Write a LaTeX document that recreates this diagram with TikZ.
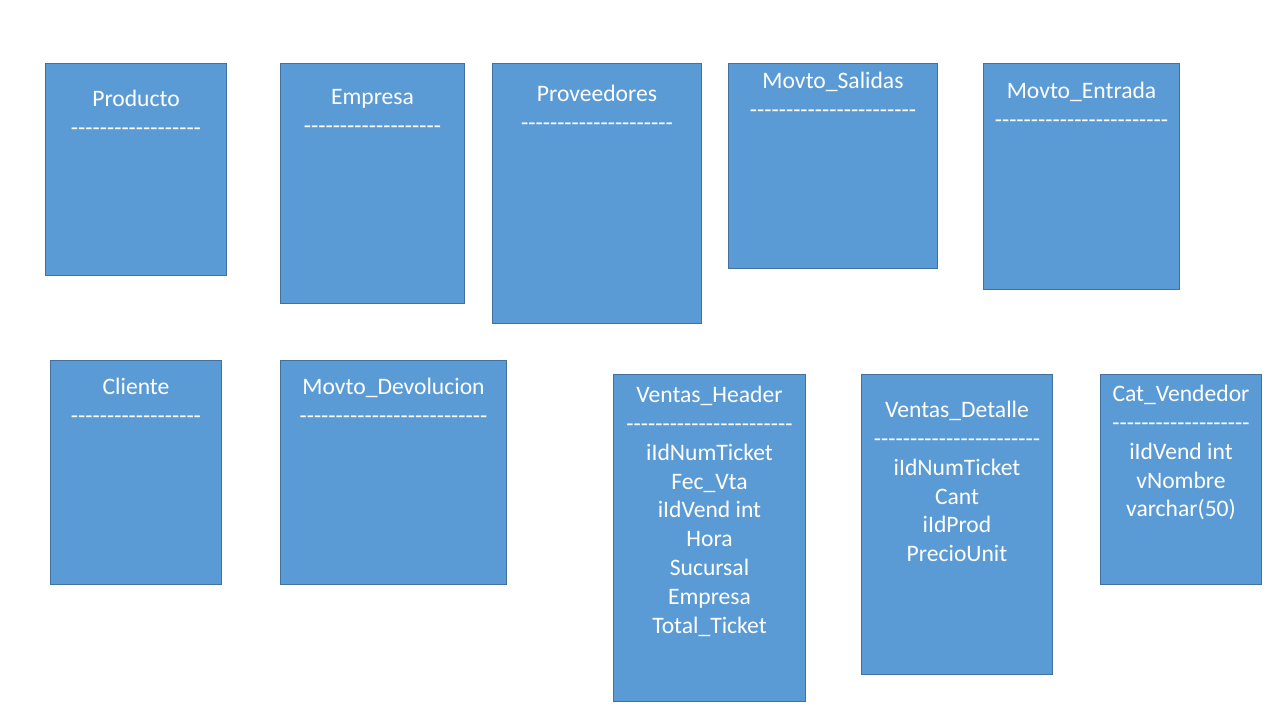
\documentclass[tikz,border=0pt]{standalone}
\usepackage{fontspec}
\setmainfont{Carlito}
\usetikzlibrary{positioning}
\definecolor{azul}{HTML}{5B9BD5}
\definecolor{borde}{HTML}{41719C}
\newcommand{\guiones}[1]{\foreach \g in {1,...,#1}{-}}

\begin{document}
\begin{tikzpicture}[
	x=0.75pt, y=-0.75pt,
	tabla/.style={
		draw=borde,
		fill=azul,
		line width=0.75pt,
		rectangle,
		anchor=north west,
		inner sep=0pt
	},
	campos/.style={
		text=white,
		align=center,
		inner sep=0pt,
		font=\fontsize{17.7pt}{21.6pt}\selectfont
	}
	]
	\useasboundingbox (0,0) rectangle (1280,720);
	\fill[white] (0,0) rectangle (1280,720);
	
	% fila de arriba
	\node[tabla, minimum width=135.75pt, minimum height=159pt] at (45,63) (prod) {};
	\node[campos, below=20.25pt of prod.north] (prodT) {Producto\\\guiones{18}};
	
	\node[tabla, minimum width=138pt, minimum height=180pt] at (280,63) (emp) {};
	\node[campos, below=19.5pt of emp.north] (empT) {Empresa\\\guiones{19}};
	
	\node[tabla, minimum width=156.75pt, minimum height=195pt] at (492,63) (prov) {};
	\node[campos, below=16.5pt of prov.north] (provT) {Proveedores\\\guiones{21}};
	
	\node[tabla, minimum width=156.75pt, minimum height=153.75pt] at (728,63) (sal) {};
	\node[campos, below=6.75pt of sal.north] (salT) {Movto\_Salidas\\\guiones{23}};
	
	\node[tabla, minimum width=147pt, minimum height=169.5pt] at (983,63) (ent) {};
	\node[campos, below=14.25pt of ent.north] (entT) {Movto\_Entrada\\\guiones{24}};
	
	% fila de abajo
	\node[tabla, minimum width=128.25pt, minimum height=168pt] at (50,360) (cli) {};
	\node[campos, below=13.5pt of cli.north] (cliT) {Cliente\\\guiones{18}};
	
	\node[tabla, minimum width=169.5pt, minimum height=168pt] at (280,360) (dev) {};
	\node[campos, below=13.5pt of dev.north] (devT) {Movto\_Devolucion\\\guiones{26}};
	
	\node[tabla, minimum width=144pt, minimum height=245.25pt] at (613,374) (vh) {};
	\node[campos, below=9pt of vh.north] (vhT) {Ventas\_Header\\\guiones{23}\\iIdNumTicket\\Fec\_Vta\\iIdVend int\\Hora\\Sucursal\\Empresa\\Total\_Ticket};
	
	\node[tabla, minimum width=143.25pt, minimum height=225pt] at (861,374) (vd) {};
	\node[campos, below=20.25pt of vd.north] (vdT) {Ventas\_Detalle\\\guiones{23}\\iIdNumTicket\\Cant\\iIdProd\\PrecioUnit};
	
	\node[tabla, minimum width=120.75pt, minimum height=157.5pt] at (1100,374) (cv) {};
	\node[campos, below=8.25pt of cv.north] (cvT) {Cat\_Vendedor\\\guiones{19}\\iIdVend int\\vNombre\\varchar(50)};
	
\end{tikzpicture}
\end{document}
